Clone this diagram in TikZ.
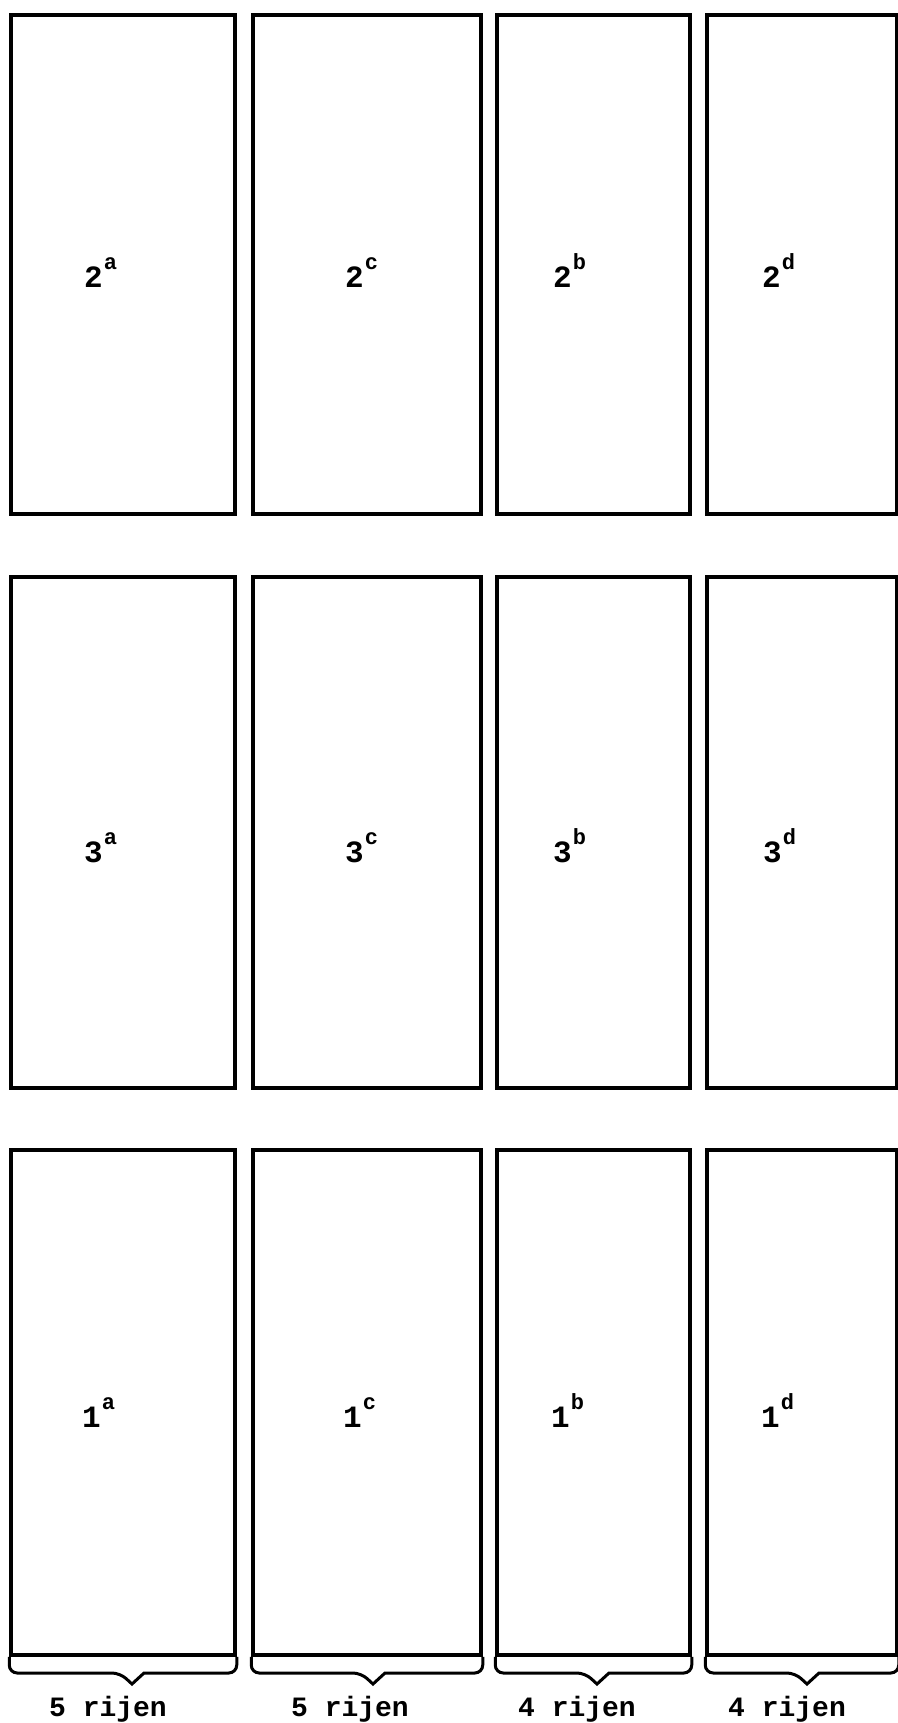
\documentclass[tikz,border=0pt]{standalone}
\usepackage{fontspec}
\setmonofont{Liberation Mono}
\usetikzlibrary{calc}
\newcommand\suplab[1]{\kern1pt\raisebox{18pt}{\fontsize{22}{22}\selectfont\ttfamily\bfseries #1}}
\begin{document}
\begin{tikzpicture}[x=1pt,y=-1pt,
  box/.style={draw, line width=3.5pt, inner sep=0pt},
  brace/.style={draw, line width=3pt},
  lab/.style={font=\fontsize{31}{31}\selectfont\ttfamily\bfseries, inner sep=0pt, anchor=base west},
  rij/.style={font=\fontsize{28}{28}\selectfont\ttfamily\bfseries, inner sep=0pt, anchor=base}]
\useasboundingbox (0,0) rectangle (897,1723);
% row 1 (2)
\node[box, minimum width=224pt, minimum height=499pt] (b2a) at (123,264.5) {};
\node[box, minimum width=228pt, minimum height=499pt] (b2c) at (367,264.5) {};
\node[box, minimum width=193pt, minimum height=499pt] (b2b) at (593.5,264.5) {};
\node[box, minimum width=190pt, minimum height=499pt] (b2d) at (802,264.5) {};
% row 2 (3)
\node[box, minimum width=224pt, minimum height=511pt] (b3a) at (123,832.5) {};
\node[box, minimum width=228pt, minimum height=511pt] (b3c) at (367,832.5) {};
\node[box, minimum width=193pt, minimum height=511pt] (b3b) at (593.5,832.5) {};
\node[box, minimum width=190pt, minimum height=511pt] (b3d) at (802,832.5) {};
% row 3 (1)
\node[box, minimum width=224pt, minimum height=505pt] (b1a) at (123,1402.5) {};
\node[box, minimum width=228pt, minimum height=505pt] (b1c) at (367,1402.5) {};
\node[box, minimum width=193pt, minimum height=505pt] (b1b) at (593.5,1402.5) {};
\node[box, minimum width=190pt, minimum height=505pt] (b1d) at (802,1402.5) {};
% labels
\node[lab] (l2a) at (84,287) {2\suplab{a}};
\node[lab] (l2c) at (345,287) {2\suplab{c}};
\node[lab] (l2b) at (553,287) {2\suplab{b}};
\node[lab] (l2d) at (762,287) {2\suplab{d}};
\node[lab] (l3a) at (84,862) {3\suplab{a}};
\node[lab] (l3c) at (345,862) {3\suplab{c}};
\node[lab] (l3b) at (553,862) {3\suplab{b}};
\node[lab] (l3d) at (763,862) {3\suplab{d}};
\node[lab] (l1a) at (82,1427) {1\suplab{a}};
\node[lab] (l1c) at (343,1427) {1\suplab{c}};
\node[lab] (l1b) at (551,1427) {1\suplab{b}};
\node[lab] (l1d) at (761,1427) {1\suplab{d}};
% braces
\coordinate (v1) at (132,1684);
\coordinate (v2) at (373,1684);
\coordinate (v3) at (597,1684);
\coordinate (v4) at (807,1684);
\foreach \b/\v in {b1a/v1, b1c/v2, b1b/v3, b1d/v4}{
  \draw[brace] (\b.south west) [rounded corners=8pt] |- ($(\v)+(-12,-11)$) [sharp corners] -- (\v) -- ($(\v)+(12,-11)$) [rounded corners=8pt] -| (\b.south east);
}
% bottom texts
\node[rij] (t1) at (108,1716) {5 rijen};
\node[rij] (t2) at (350,1716) {5 rijen};
\node[rij] (t3) at (577,1716) {4 rijen};
\node[rij] (t4) at (787,1716) {4 rijen};
\end{tikzpicture}
\end{document}
